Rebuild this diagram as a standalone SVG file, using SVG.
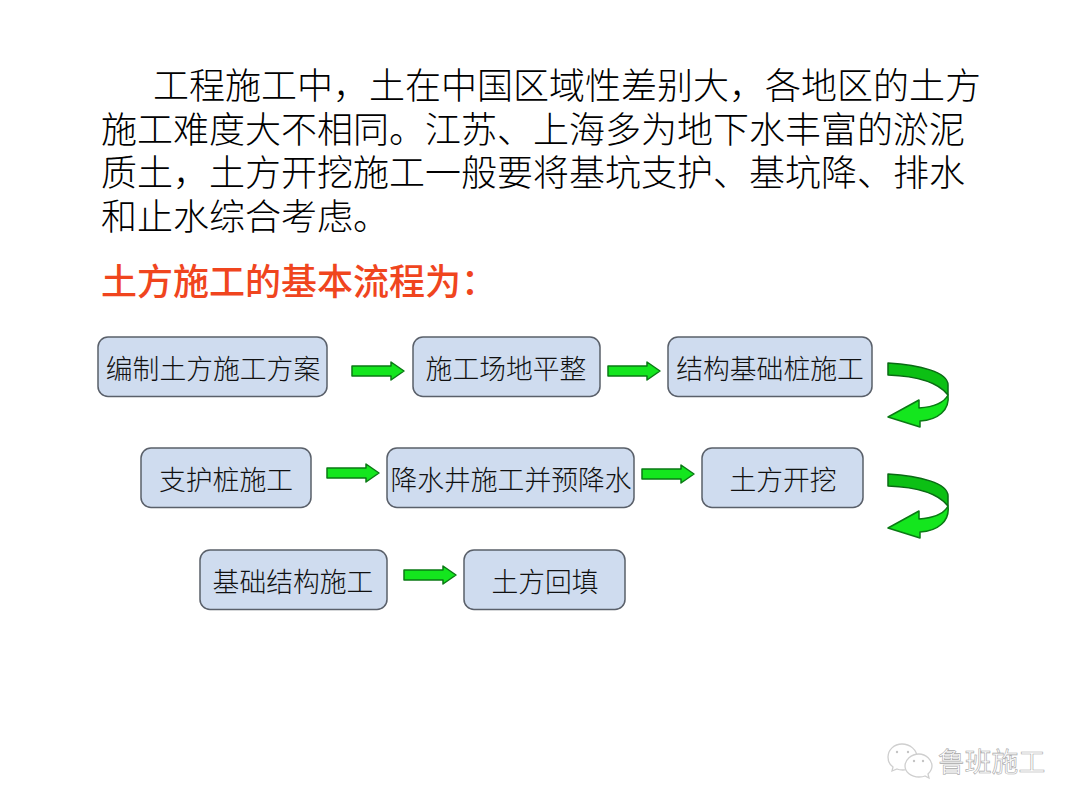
<svg xmlns="http://www.w3.org/2000/svg" width="1080" height="810" viewBox="0 0 1080 810">
<style>
text{font-family:"Noto Sans CJK SC","Noto Sans",sans-serif}
.p{font-size:36px;fill:#000;font-weight:300}
.h{font-size:36px;fill:#f0451e;font-weight:500}
.n{fill:#cfdcef;stroke:#5a606a;stroke-width:1.5}
.t{font-size:26.8px;fill:#111;text-anchor:middle;font-weight:300}
.a{fill:#14e61e;stroke:#0a7a14;stroke-width:1.5;stroke-linejoin:round}
.d{fill:#0cc014;stroke:#0a6a14;stroke-width:1.5;stroke-linejoin:round}
.w{fill:#fff;stroke:#cfcfcf;stroke-width:1.3}
.e{fill:#c4c4c4}
</style>
<defs>
<path id="s" class="a" d="M0-5H39V-9L52 0 39 9V5H0Z"/>
<g id="c">
<path class="d" d="M888 363C920 365 948 372 948 385V395C938 382 915 376 888 375Z"/>
<path class="a" d="M948 395C950 410 938 420 920 421V427L888 417 919 400V408C932 407 944 403 948 395Z"/>
</g>
</defs>
<rect width="1080" height="810" fill="#fff"/>
<g id="paragraph">
<text class="p" x="153" y="99">工程施工中，土在中国区域性差别大，各地区的土方</text>
<text class="p" x="101" y="143">施工难度大不相同。江苏、上海多为地下水丰富的淤泥</text>
<text class="p" x="101" y="186">质土，土方开挖施工一般要将基坑支护、基坑降、排水</text>
<text class="p" x="101" y="230">和止水综合考虑。</text>
</g>
<text id="heading" class="h" x="101" y="295">土方施工的基本流程为：</text>
<g id="connectors">
<use href="#s" x="352" y="371"/>
<use href="#s" x="608" y="371"/>
<use href="#s" x="327" y="473"/>
<use href="#s" x="642" y="474"/>
<use href="#s" x="404" y="575"/>
<use href="#c"/>
<use href="#c" y="111"/>
</g>
<g id="n1"><rect class="n" x="98" y="337" width="229" height="59.500" rx="10"/><text class="t" x="213" y="379">编制土方施工方案</text></g>
<g id="n2"><rect class="n" x="413" y="337" width="187" height="59.500" rx="10"/><text class="t" x="506" y="379">施工场地平整</text></g>
<g id="n3"><rect class="n" x="668" y="337" width="204" height="59.500" rx="10"/><text class="t" x="770" y="379">结构基础桩施工</text></g>
<g id="n4"><rect class="n" x="141" y="448" width="170" height="59.500" rx="10"/><text class="t" x="226" y="490">支护桩施工</text></g>
<g id="n5"><rect class="n" x="387" y="448" width="247" height="59.500" rx="10"/><text class="t" x="511" y="490">降水井施工并预降水</text></g>
<g id="n6"><rect class="n" x="702" y="448" width="161" height="59.500" rx="10"/><text class="t" x="783" y="490">土方开挖</text></g>
<g id="n7"><rect class="n" x="200" y="550" width="187" height="59.500" rx="10"/><text class="t" x="293" y="592">基础结构施工</text></g>
<g id="n8"><rect class="n" x="464" y="550" width="161" height="59.500" rx="10"/><text class="t" x="545" y="592">土方回填</text></g>
<g id="watermark">
<path class="w" d="M902 744C894 744 888 750 888 757C888 761 890 765 893 767L892 771 897 769C899 770 901 770 903 770C911 770 917 764 917 757C917 750 910 744 902 744Z"/>
<circle class="e" cx="897" cy="752" r="1.200"/><circle class="e" cx="908" cy="752" r="1.200"/>
<path class="w" d="M919 754C911 754 905 760 905 766C905 772 911 777 919 777C921 777 923 777 925 776L929 778 928 774C930 772 932 769 932 766C932 760 926 754 919 754Z"/>
<circle class="e" cx="914" cy="761" r="1.200"/><circle class="e" cx="923" cy="761" r="1.200"/>
<text x="938" y="772" font-size="26.800" fill="#fff" stroke="#a8a8a8" stroke-width=".6">鲁班施工</text>
</g>
</svg>
